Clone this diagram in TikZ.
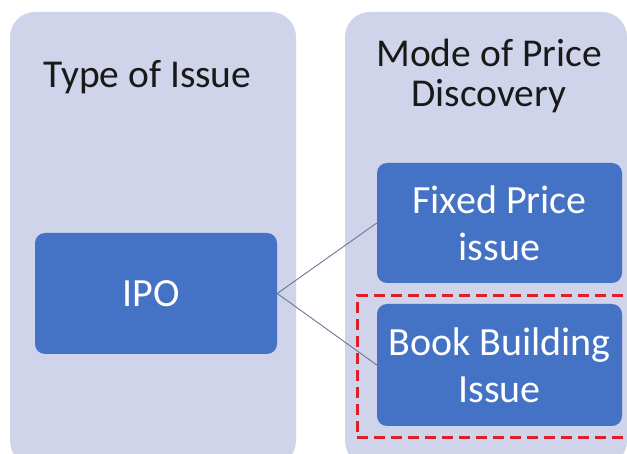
\documentclass[tikz,border=0pt]{standalone}
\usepackage{fontspec}
\setmainfont{Carlito}
\definecolor{panelbg}{RGB}{207,212,234}
\definecolor{boxblue}{RGB}{68,114,196}
\definecolor{linkgray}{RGB}{105,118,150}
\definecolor{markred}{RGB}{222,30,40}
\begin{document}
\begin{tikzpicture}[x = 1pt, y = -1pt,
  panel/.style = {fill = panelbg, rounded corners = 25pt},
  title/.style = {text = black!90, align = center, font = \fontsize{39.5}{40}\selectfont},
  stage/.style = {fill = boxblue, text = white, rounded corners = 10pt, align = center, inner sep = 0pt, font = \fontsize{40}{47}\selectfont},
  link/.style = {draw = linkgray, line width = 0.9pt},
  highlight/.style = {draw = markred, line width = 3pt, dash pattern = on 11pt off 6pt}]

  \useasboundingbox (0, 0) rectangle (627, 454);
  \clip (0, 0) rectangle (627, 454);
  \fill[white] (0, 0) rectangle (627, 454);

  \fill[panel] (10, 12) rectangle (296, 466);
  \fill[panel] (345, 12) rectangle (627, 466);

  \node[title, anchor = base] (issuetype) at (152, 88) { Type of Issue };
  \node[title, anchor = base] (pricemode) at (489, 107) { Mode of Price\\Discovery };

  \node[stage, minimum width = 242pt, minimum height = 121pt] (ipo) at (156, 293.5) { IPO };

  \node[stage, minimum width = 245pt, minimum height = 120pt] (fixed) at (499.5, 223) { Fixed Price\\issue };
  \node[stage, minimum width = 245pt, minimum height = 122pt] (book) at (499.5, 365) { Book Building\\Issue };

  \draw[link] (ipo.east) -- (fixed.west);
  \draw[link] (ipo.east) -- (book.west);

  \draw[highlight] (640, 296) -- (357, 296) -- (357, 438) -- (640, 438);

\end{tikzpicture}
\end{document}
